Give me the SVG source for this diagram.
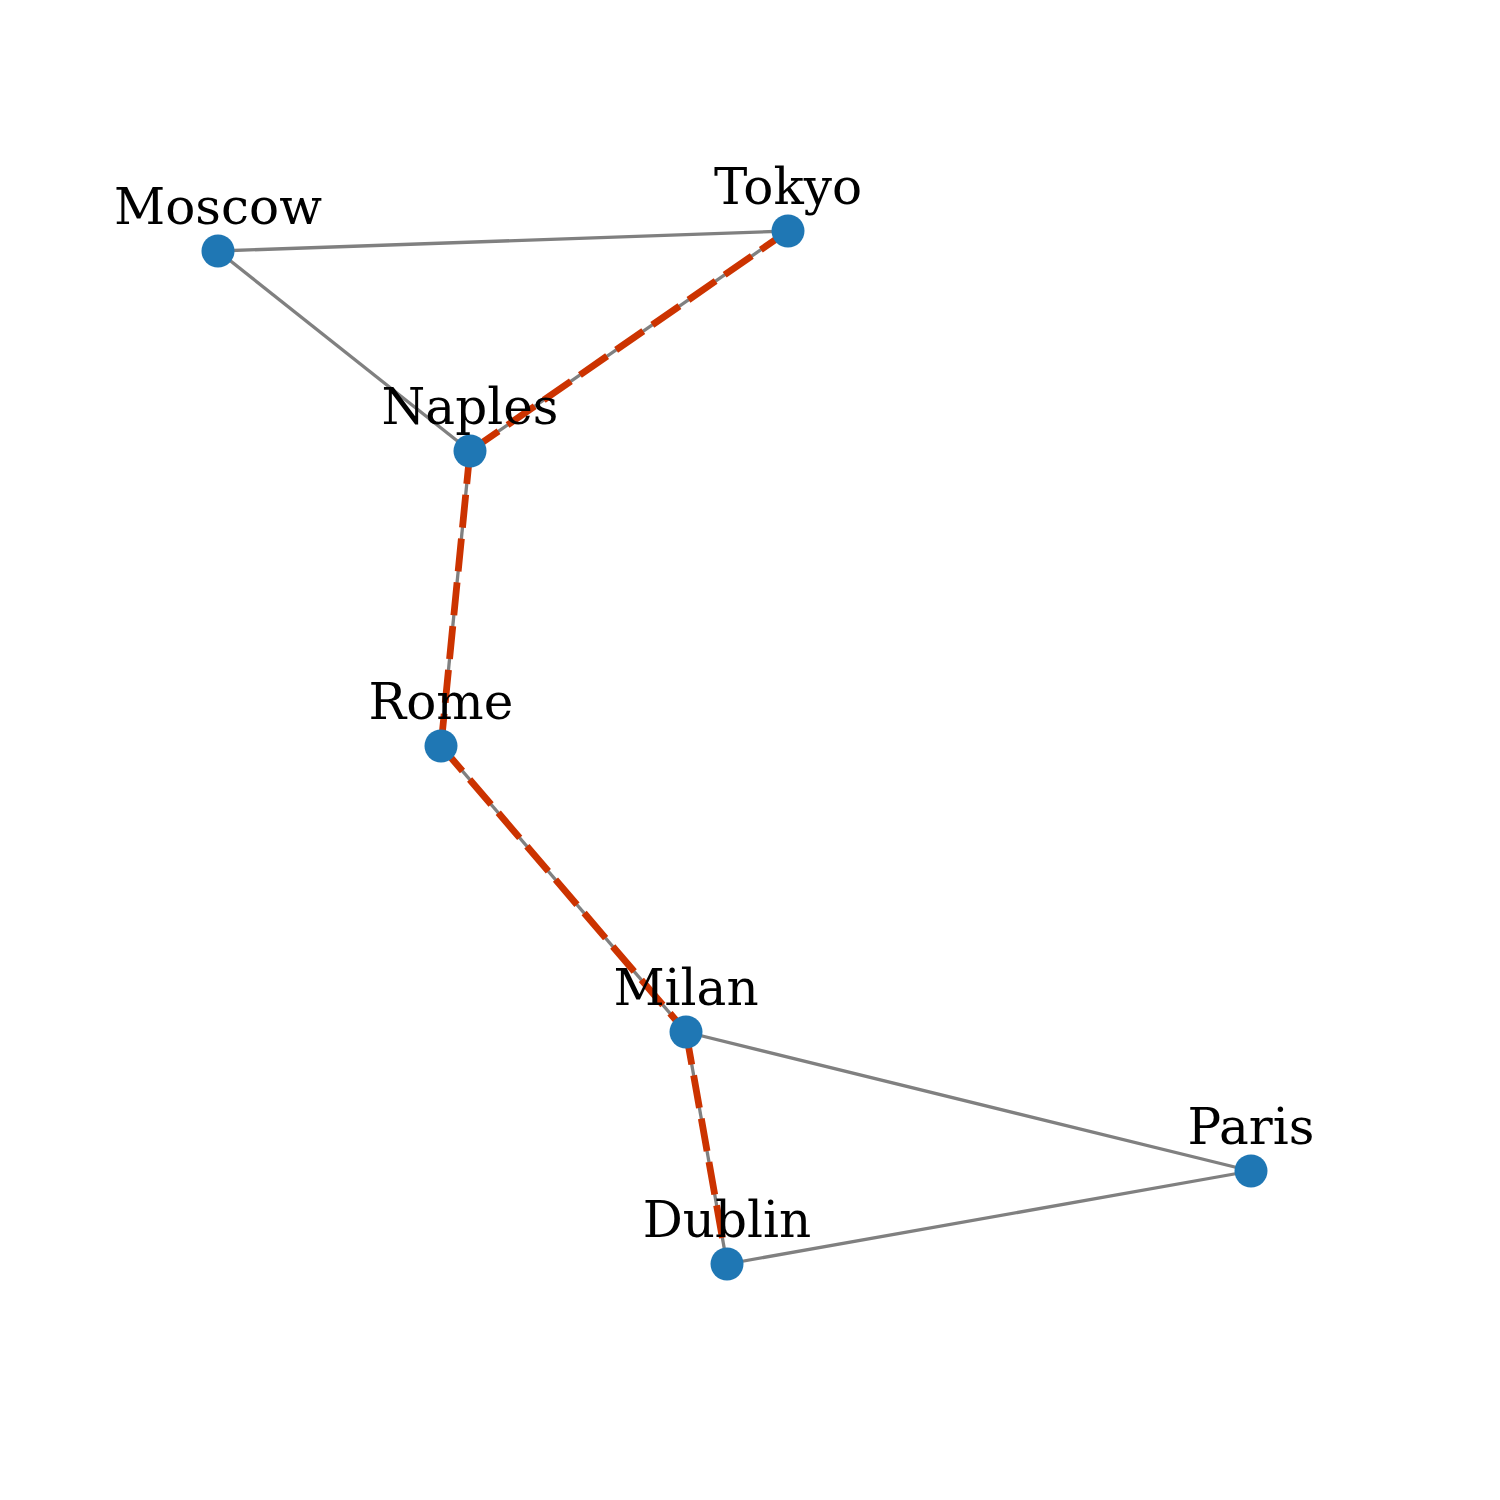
<svg xmlns="http://www.w3.org/2000/svg" width="1500" height="1500" viewBox="0 0 1500 1500">
<style>
.e{stroke:#808080;stroke-width:3.3;fill:none}
.p{stroke:#cc3300;stroke-width:6.8;fill:none;stroke-dasharray:33 11}
.n{fill:#1f77b4}
.t{font-family:"DejaVu Serif",serif;font-size:50px;fill:#000;text-anchor:middle}
</style>
<rect width="1500" height="1500" fill="#fff"/>
<g id="edges">
<line class="e" x1="218" y1="251" x2="788" y2="231"/>
<line class="e" x1="218" y1="251" x2="470" y2="451"/>
<line class="e" x1="470" y1="451" x2="788" y2="231"/>
<line class="e" x1="470" y1="451" x2="441" y2="746"/>
<line class="e" x1="441" y1="746" x2="686" y2="1032"/>
<line class="e" x1="686" y1="1032" x2="1251" y2="1171"/>
<line class="e" x1="686" y1="1032" x2="727" y2="1264"/>
<line class="e" x1="1251" y1="1171" x2="727" y2="1264"/>
<line class="p" x1="788" y1="231" x2="470" y2="451"/>
<line class="p" x1="470" y1="451" x2="441" y2="746"/>
<line class="p" x1="441" y1="746" x2="686" y2="1032"/>
<line class="p" x1="686" y1="1032" x2="727" y2="1264"/>
</g>
<g id="Moscow"><circle class="n" cx="218" cy="251" r="16.5"/><text class="t" x="218" y="224">Moscow</text></g>
<g id="Tokyo"><circle class="n" cx="788" cy="231" r="16.5"/><text class="t" x="788" y="204">Tokyo</text></g>
<g id="Naples"><circle class="n" cx="470" cy="451" r="16.5"/><text class="t" x="470" y="424">Naples</text></g>
<g id="Rome"><circle class="n" cx="441" cy="746" r="16.5"/><text class="t" x="441" y="719">Rome</text></g>
<g id="Milan"><circle class="n" cx="686" cy="1032" r="16.5"/><text class="t" x="686" y="1005">Milan</text></g>
<g id="Paris"><circle class="n" cx="1251" cy="1171" r="16.5"/><text class="t" x="1251" y="1144">Paris</text></g>
<g id="Dublin"><circle class="n" cx="727" cy="1264" r="16.5"/><text class="t" x="727" y="1237">Dublin</text></g>
</svg>
